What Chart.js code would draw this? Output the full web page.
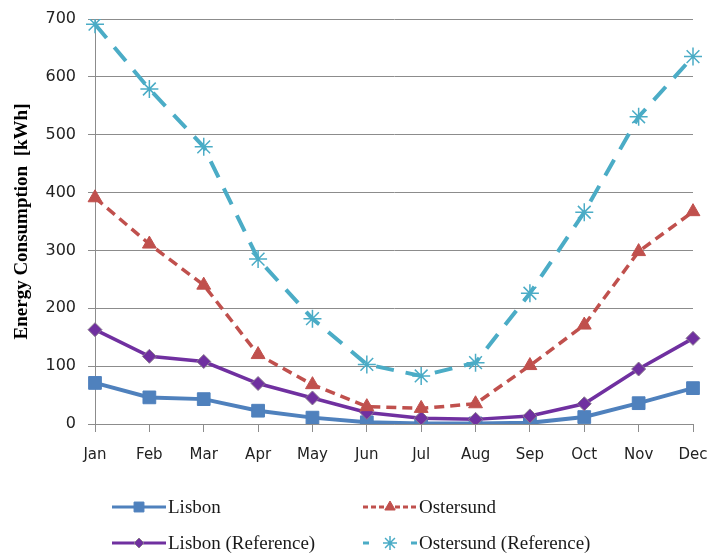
<!DOCTYPE html>
<html lang="en">
<head>
    <meta charset="UTF-8">
    <title>Energy Consumption</title>
    <script src="https://cdn.jsdelivr.net/npm/chart.js"></script>
    <style>
        body {
            margin: 0;
            padding: 0;
            background-color: #fff;
        }
        .chart-box {
            width: 708px;
            height: 554px;
        }
    </style>
</head>
<body>
    <div class="chart-box">
        <canvas id="energyChart" width="708" height="554"></canvas>
    </div>

    <script>
        const months = ['Jan', 'Feb', 'Mar', 'Apr', 'May', 'Jun', 'Jul', 'Aug', 'Sep', 'Oct', 'Nov', 'Dec'];
        const lisbon = [71, 46, 43, 23, 11, 3, 1, 1, 2, 12, 36, 62];
        const ostersund = [391, 311, 240, 120, 68, 30, 27, 35, 101, 171, 298, 367];
        const lisbonRef = [163, 117, 108, 70, 45, 20, 10, 8, 14, 35, 95, 148];
        const ostersundRef = [691, 579, 479, 285, 182, 103, 83, 106, 226, 366, 531, 635];

        // line + marker legend in two columns under the plot
        const sideLegend = {
            id: 'sideLegend',
            afterDraw(chart) {
                const ctx = chart.ctx;
                const spots = [
                    { x: 112, y: 507 },
                    { x: 363, y: 507 },
                    { x: 112, y: 543 },
                    { x: 363, y: 543 }
                ];
                chart.data.datasets.forEach((ds, n) => {
                    const p = spots[n];
                    ctx.save();
                    ctx.strokeStyle = ds.borderColor;
                    ctx.lineWidth = ds.legendWidth;
                    ctx.setLineDash(ds.legendDash || []);
                    ctx.beginPath();
                    ctx.moveTo(p.x, p.y);
                    ctx.lineTo(p.x + 54, p.y);
                    ctx.stroke();
                    ctx.setLineDash([]);
                    ctx.fillStyle = ds.pointBackgroundColor;
                    ctx.strokeStyle = ds.pointBorderColor;
                    ctx.lineWidth = ds.pointBorderWidth;
                    Chart.helpers.drawPoint(ctx, {
                        pointStyle: ds.pointStyle,
                        radius: ds.legendRadius,
                        borderWidth: ds.pointBorderWidth
                    }, p.x + 27, p.y);
                    ctx.fillStyle = '#1a1a1a';
                    ctx.font = '19px "Liberation Serif", serif';
                    ctx.textBaseline = 'middle';
                    ctx.textAlign = 'left';
                    ctx.fillText(ds.label, p.x + 56, p.y + 1);
                    ctx.restore();
                });
            }
        };

        const ctx = document.getElementById('energyChart').getContext('2d');
        const energyChart = new Chart(ctx, {
            type: 'line',
            data: {
                labels: months,
                datasets: [{
                    label: 'Lisbon',
                    data: lisbon,
                    borderColor: '#4f81bd',
                    borderWidth: 4,
                    legendWidth: 3,
                    pointStyle: 'rect',
                    pointRadius: 9,
                    legendRadius: 7,
                    pointBackgroundColor: '#4f81bd',
                    pointBorderColor: '#4f81bd',
                    pointBorderWidth: 1,
                    order: 4
                }, {
                    label: 'Ostersund',
                    data: ostersund,
                    borderColor: '#c0504d',
                    borderWidth: 3.5,
                    legendWidth: 3,
                    borderDash: [10, 6],
                    legendDash: [5, 3],
                    pointStyle: 'triangle',
                    pointRadius: 8,
                    legendRadius: 6,
                    pointBackgroundColor: '#c0504d',
                    pointBorderColor: '#c0504d',
                    pointBorderWidth: 1,
                    order: 2
                }, {
                    label: 'Lisbon (Reference)',
                    data: lisbonRef,
                    borderColor: '#7030a0',
                    borderWidth: 3.5,
                    legendWidth: 3,
                    pointStyle: 'rectRot',
                    pointRadius: 7,
                    legendRadius: 5,
                    pointBackgroundColor: '#7030a0',
                    pointBorderColor: '#8a7a8e',
                    pointBorderWidth: 1,
                    order: 3
                }, {
                    label: 'Ostersund (Reference)',
                    data: ostersundRef,
                    borderColor: '#4bacc6',
                    borderWidth: 4,
                    legendWidth: 3,
                    borderDash: [18, 12],
                    legendDash: [6, 42],
                    pointStyle: 'star',
                    pointRadius: 9,
                    legendRadius: 7,
                    pointBackgroundColor: '#4bacc6',
                    pointBorderColor: '#4bacc6',
                    pointBorderWidth: 1.5,
                    order: 1
                }]
            },
            options: {
                responsive: false,
                animation: false,
                layout: {
                    padding: { top: 19, right: 0, left: 0, bottom: 0 }
                },
                elements: {
                    line: { tension: 0, fill: false }
                },
                plugins: {
                    legend: { display: false },
                    tooltip: { enabled: false }
                },
                scales: {
                    x: {
                        offset: false,
                        afterFit(scale) {
                            scale.height = 130;
                            scale.paddingRight = 15;
                        },
                        border: { color: '#8c8c8c', width: 1 },
                        grid: {
                            drawOnChartArea: false,
                            drawTicks: true,
                            tickLength: 8,
                            color: '#8c8c8c'
                        },
                        ticks: {
                            color: '#222',
                            padding: 14,
                            maxRotation: 0,
                            font: { family: '"DejaVu Sans", sans-serif', size: 15 }
                        }
                    },
                    y: {
                        min: 0,
                        max: 700,
                        afterFit(scale) {
                            scale.width = 95;
                            scale.paddingTop = 0;
                            scale.paddingBottom = 0;
                        },
                        border: { color: '#8c8c8c', width: 1 },
                        grid: {
                            color: '#8c8c8c',
                            tickLength: 7
                        },
                        ticks: {
                            stepSize: 100,
                            color: '#222',
                            padding: 12,
                            font: { family: '"DejaVu Sans", sans-serif', size: 16 }
                        },
                        title: {
                            display: true,
                            text: 'Energy Consumption  [kWh]',
                            color: '#000',
                            padding: { top: 11, bottom: 0 },
                            font: { family: '"Liberation Serif", serif', size: 19, weight: 'bold' }
                        }
                    }
                }
            },
            plugins: [sideLegend]
        });
    </script>
</body>
</html>
